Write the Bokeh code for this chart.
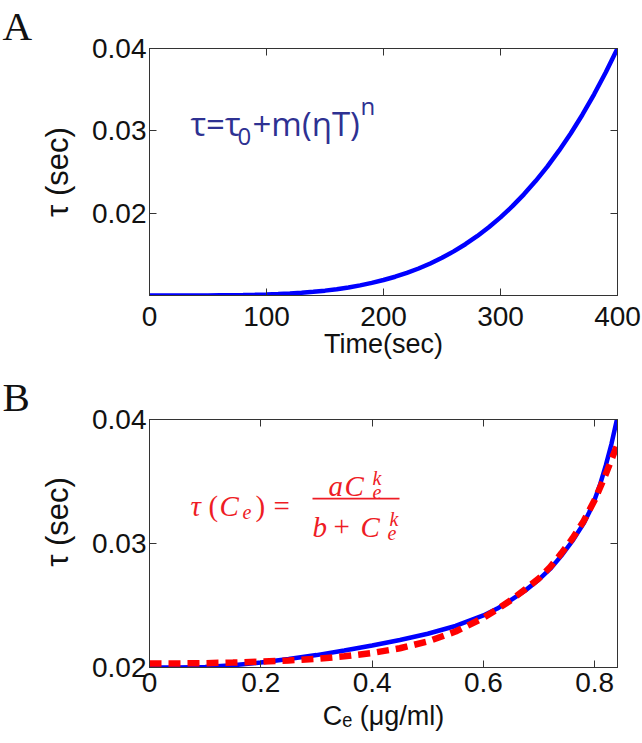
from bokeh.plotting import figure
from bokeh.models import Range1d, LinearAxis, Label, FixedTicker, BoxAnnotation
from bokeh.layouts import column
from bokeh.embed import file_html
from bokeh.resources import INLINE

# ---------------- Panel A data ----------------
time_sec = [0, 10, 20, 30, 40, 50, 60, 70, 80, 90, 100, 110, 120, 130, 140,
            150, 160, 170, 180, 190, 200, 210, 220, 230, 240, 250, 260, 270,
            280, 290, 300, 310, 320, 330, 340, 350, 360, 370, 380, 390, 400]
tau_time = [0.01000, 0.01000, 0.01000, 0.01000, 0.01000, 0.01001, 0.01002,
            0.01003, 0.01005, 0.01008, 0.01012, 0.01017, 0.01024, 0.01033,
            0.01045, 0.01059, 0.01077, 0.01098, 0.01123, 0.01153, 0.01188,
            0.01228, 0.01275, 0.01328, 0.01389, 0.01458, 0.01536, 0.01623,
            0.01720, 0.01829, 0.01949, 0.02082, 0.02229, 0.02390, 0.02566,
            0.02759, 0.02968, 0.03196, 0.03444, 0.03711, 0.04000]
a_xticks = [0, 100, 200, 300, 400]
a_xtick_labels = ["0", "100", "200", "300", "400"]
a_yticks = [0.02, 0.03, 0.04]
a_ytick_labels = ["0.02", "0.03", "0.04"]

# ---------------- Panel B data ----------------
ce_blue = [0, 0.05, 0.10, 0.15, 0.20, 0.25, 0.30, 0.35, 0.40, 0.45, 0.50,
           0.55, 0.60, 0.625, 0.65, 0.675, 0.70, 0.72, 0.74, 0.76, 0.78,
           0.79, 0.80, 0.81, 0.82, 0.83, 0.84]
tau_blue = [0.02000, 0.02000, 0.02005, 0.02018, 0.02040, 0.02068, 0.02100,
            0.02137, 0.02178, 0.02222, 0.02272, 0.02335, 0.02420, 0.02475,
            0.02545, 0.02620, 0.02710, 0.02795, 0.02900, 0.03020, 0.03160,
            0.03250, 0.03355, 0.03480, 0.03630, 0.03800, 0.04000]
ce_red = [0, 0.05, 0.10, 0.15, 0.20, 0.25, 0.30, 0.35, 0.40, 0.45, 0.50,
          0.55, 0.60, 0.625, 0.65, 0.675, 0.70, 0.72, 0.74, 0.76, 0.78,
          0.80, 0.82, 0.84]
tau_red = [0.02033, 0.02033, 0.02035, 0.02040, 0.02047, 0.02057, 0.02070,
           0.02090, 0.02117, 0.02155, 0.02210, 0.02290, 0.02400, 0.02470,
           0.02545, 0.02630, 0.02720, 0.02810, 0.02920, 0.03040, 0.03180,
           0.03350, 0.03560, 0.03790]
b_xticks = [0, 0.2, 0.4, 0.6, 0.8]
b_xtick_labels = ["0", "0.2", "0.4", "0.6", "0.8"]
b_yticks = [0.02, 0.03, 0.04]
b_ytick_labels = ["0.02", "0.03", "0.04"]

AX = "#333333"
TXT = "#111111"
SANS = "Liberation Sans"
SERIF = "Liberation Serif"


def style(p, xticks, xlabels, yticks, ylabels, xstand, xlstand, xlabel, ylabel):
    p.xgrid.visible = False
    p.ygrid.visible = False
    p.outline_line_color = AX
    p.background_fill_color = "white"
    p.border_fill_color = "white"
    # panel letter as a left-aligned title
    p.title.text_font = SERIF
    p.title.text_font_size = "41px"
    p.title.text_font_style = "normal"
    p.title.text_color = TXT
    p.title.align = "left"
    p.title.offset = -147
    p.title.standoff = 0
    xa, ya = p.xaxis[0], p.yaxis[0]
    xa.ticker = FixedTicker(ticks=xticks)
    ya.ticker = FixedTicker(ticks=yticks)
    xa.major_label_overrides = dict(zip(xticks, xlabels))
    ya.major_label_overrides = dict(zip(yticks, ylabels))
    xa.major_label_standoff = xstand
    ya.major_label_standoff = 3
    xa.axis_label = xlabel
    ya.axis_label = ylabel
    xa.axis_label_standoff = xlstand
    ya.axis_label_standoff = 14
    for ax in (xa, ya):
        ax.major_tick_in = 7
        ax.major_tick_out = 0
        ax.minor_tick_line_color = None
        ax.axis_line_color = AX
        ax.major_tick_line_color = AX
        ax.major_label_text_font = SANS
        ax.major_label_text_font_size = "28px"
        ax.major_label_text_color = TXT
        ax.axis_label_text_font = SANS
        ax.axis_label_text_font_style = "normal"
        ax.axis_label_text_color = TXT
    xa.axis_label_text_font_size = "27px"
    ya.axis_label_text_font_size = "31px"
    top = LinearAxis(ticker=FixedTicker(ticks=xticks))
    right = LinearAxis(ticker=FixedTicker(ticks=yticks))
    for ax in (top, right):
        ax.major_tick_in = 7
        ax.major_tick_out = 0
        ax.minor_tick_line_color = None
        ax.axis_line_color = AX
        ax.major_tick_line_color = AX
        ax.major_label_text_color = None
        ax.major_label_text_font_size = "1px"
        ax.major_label_standoff = 0
    p.add_layout(top, "above")
    p.add_layout(right, "right")


def lab(p, text, x, y, size, color, font, fstyle="normal"):
    p.add_layout(Label(x=x, y=y, x_units="screen", y_units="screen", text=text,
                       text_font_size=f"{size}px", text_color=color,
                       text_font=font, text_font_style=fstyle,
                       text_align="left", text_baseline="alphabetic"))


# ---------------- Panel A ----------------
pa = figure(width=642, height=371, output_backend="svg", toolbar_location=None,
            title="A",
            x_range=Range1d(0, 400), y_range=Range1d(0.01, 0.04),
            min_border_left=149, min_border_right=25, min_border_top=45,
            min_border_bottom=76)
style(pa, a_xticks, a_xtick_labels, a_yticks, a_ytick_labels, 11, 0,
      "Time(sec)", "τ (sec)")
pa.line(time_sec, tau_time, line_color="#0000ff", line_width=4.5)

NAVY = "#2e3192"
lab(pa, "τ=τ", 41, 172, 33, NAVY, "Open Sans")
lab(pa, "0", 88, 159, 24, NAVY, "Open Sans")
lab(pa, "+m(ηT)", 103, 172, 33, NAVY, "Open Sans")
lab(pa, "n", 211, 190, 24, NAVY, "Open Sans")

# ---------------- Panel B ----------------
pb = figure(width=642, height=371, output_backend="svg", toolbar_location=None,
            title="B",
            x_range=Range1d(0, 0.841), y_range=Range1d(0.02, 0.04),
            min_border_left=149, min_border_right=25, min_border_top=45,
            min_border_bottom=75)
style(pb, b_xticks, b_xtick_labels, b_yticks, b_ytick_labels, 5, 6,
      "Cₑ (μg/ml)", "\u00a0\u00a0\u00a0\u00a0\u00a0τ (sec)")
pb.line(ce_blue, tau_blue, line_color="#0000ff", line_width=4.5)
pb.line(ce_red, tau_red, line_color="#ff0000", line_width=6.5,
        line_dash="12 7", line_cap="butt")

RED = "#ee1c25"
lab(pb, "τ", 41, 162, 29, RED, SERIF, "italic")
lab(pb, "(", 59, 162, 29, RED, SERIF)
lab(pb, "C", 70, 162, 29, RED, SERIF, "italic")
lab(pb, "e", 93, 156, 20, RED, SERIF, "italic")
lab(pb, ")", 106, 162, 29, RED, SERIF)
lab(pb, "=", 124, 162, 29, RED, SERIF)
lab(pb, "a", 179, 182, 29, RED, SERIF, "italic")
lab(pb, "C", 195, 182, 29, RED, SERIF, "italic")
lab(pb, "e", 223, 176, 20, RED, SERIF, "italic")
lab(pb, "k", 223, 190, 20, RED, SERIF, "italic")
lab(pb, "b", 163, 141, 29, RED, SERIF, "italic")
lab(pb, "+", 184, 141, 29, RED, SERIF)
lab(pb, "C", 211, 141, 29, RED, SERIF, "italic")
lab(pb, "k", 240, 149, 20, RED, SERIF, "italic")
lab(pb, "e", 238, 135, 20, RED, SERIF, "italic")
pb.add_layout(BoxAnnotation(left=163, right=250, bottom=168, top=169.7,
                            left_units="screen", right_units="screen",
                            bottom_units="screen", top_units="screen",
                            fill_color=RED, fill_alpha=1.0, line_color=None))

layout = column(pa, pb)
open("out.html", "w").write(file_html(layout, INLINE))
